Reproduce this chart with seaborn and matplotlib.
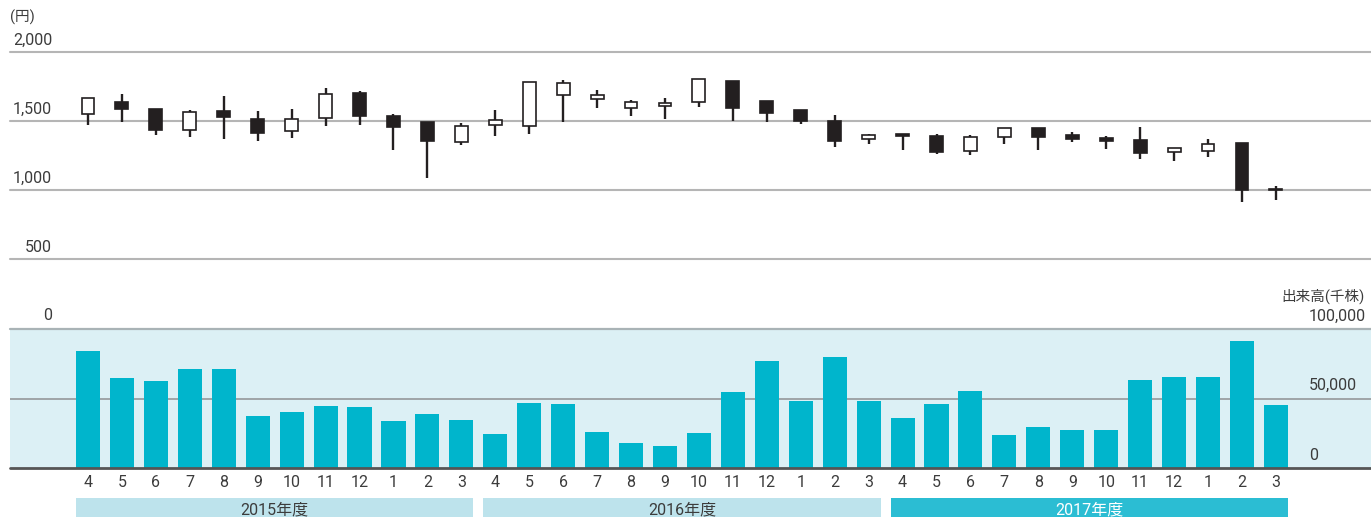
import numpy as np
import pandas as pd
import matplotlib
matplotlib.use("Agg")
import matplotlib.pyplot as plt
import matplotlib.transforms as mtransforms
from matplotlib.patches import Rectangle
import seaborn as sns

# ---- data -------------------------------------------------------------
month_labels = [4, 5, 6, 7, 8, 9, 10, 11, 12, 1, 2, 3] * 3
fiscal_years = ["2015年度", "2016年度", "2017年度"]

price_open = [1551, 1638, 1587, 1432, 1572, 1512, 1428, 1522, 1703, 1539, 1493, 1348,
              1469, 1466, 1688, 1657, 1592, 1609, 1638, 1787, 1645, 1577, 1502, 1372,
              1403, 1391, 1280, 1384, 1449, 1401, 1374, 1362, 1273, 1283, 1341, 1010]
price_high = [1669, 1696, 1587, 1577, 1681, 1572, 1587, 1739, 1720, 1548, 1493, 1483,
              1580, 1780, 1797, 1725, 1652, 1667, 1802, 1792, 1645, 1577, 1543, 1403,
              1403, 1406, 1399, 1452, 1449, 1418, 1389, 1457, 1302, 1370, 1341, 1027]
price_low = [1471, 1493, 1401, 1386, 1372, 1355, 1379, 1464, 1473, 1290, 1089, 1329,
             1394, 1408, 1495, 1597, 1539, 1517, 1604, 1502, 1495, 1481, 1314, 1336,
             1292, 1263, 1256, 1336, 1292, 1345, 1300, 1227, 1213, 1242, 916, 930]
price_close = [1669, 1585, 1432, 1563, 1527, 1415, 1512, 1698, 1534, 1457, 1358, 1466,
               1505, 1780, 1775, 1691, 1635, 1630, 1802, 1597, 1556, 1502, 1353, 1396,
               1389, 1278, 1386, 1452, 1386, 1370, 1353, 1268, 1302, 1333, 1000, 1001]

# trading volume, thousand shares
volume = [84200, 64800, 62700, 71300, 71300, 37600, 40400, 44700, 44000, 34000, 39000, 34700,
          24600, 46900, 46200, 26100, 18200, 16000, 25400, 54800, 77000, 48300, 79900, 48300,
          36100, 46200, 55500, 23900, 29700, 27500, 27500, 63400, 65600, 65600, 91400, 45500]

price_ticks = [500, 1000, 1500, 2000]
price_tick_labels = ["500", "1,000", "1,500", "2,000"]
volume_ticks = [0, 50000, 100000]
volume_tick_labels = ["0", "50,000", "100,000"]

# ---- style ------------------------------------------------------------
sns.set_style("white")
plt.rcParams["font.family"] = ["Roboto", "Noto Sans CJK JP", "DejaVu Sans"]
TEXT = "#3c3c3c"
INK = "#231f20"
BAR = "#00b5cc"
FS = 11.5

W, H = 1371, 517
fig = plt.figure(figsize=(W / 100, H / 100), dpi=100)

x_left_px, x_right_px = 10, 1371
first_px, step_px = 88, 33.94
xlim = ((x_left_px - first_px) / step_px, (x_right_px - first_px) / step_px)

def frac_box(top_px, bottom_px):
    return [x_left_px / W, 1 - bottom_px / H, (x_right_px - x_left_px) / W,
            (bottom_px - top_px) / H]

ax_p = fig.add_axes(frac_box(52, 328))
ax_v = fig.add_axes(frac_box(329, 468))

pos = np.arange(len(volume))

# ---- price panel (candlesticks) --------------------------------------
ax_p.set_xlim(*xlim)
ax_p.set_ylim(0, 2000)
ax_p.axis("off")
for v in price_ticks:
    ax_p.axhline(v, color="#b5b5b5", lw=1.5, clip_on=False, zorder=0)

o = np.array(price_open)
c = np.array(price_close)
ax_p.vlines(pos, price_low, price_high, color=INK, lw=1.7, zorder=2)
up = c >= o
ax_p.bar(pos, np.abs(c - o), bottom=np.minimum(o, c), width=0.38,
         color=np.where(up, "white", INK), edgecolor=INK, linewidth=1.2, zorder=3)

ax_p.annotate("(円)", xy=(0, 2000), xycoords=("axes fraction", "data"),
              xytext=(0, 35), textcoords="offset pixels", ha="left", va="center",
              fontsize=10.5, color=TEXT)
for v, lbl in zip([0] + price_ticks, ["0"] + price_tick_labels):
    ax_p.annotate(lbl, xy=(0, v), xycoords=("axes fraction", "data"),
                  xytext=(42, 12), textcoords="offset pixels", ha="right", va="center",
                  fontsize=FS, color=TEXT)

# ---- volume panel ------------------------------------------------------
df = pd.DataFrame({"pos": pos, "volume": volume})
ax_v.set_facecolor("#dcf0f5")
sns.barplot(data=df, x="pos", y="volume", native_scale=True, width=0.71,
            color=BAR, saturation=1, linewidth=0, ax=ax_v, zorder=2)
ax_v.set_xlim(*xlim)
ax_v.set_ylim(0, 100000)
for s in ax_v.spines.values():
    s.set_visible(False)
ax_v.axhline(100000, color="#a9b3b6", lw=1.6, clip_on=False, zorder=1)
ax_v.axhline(50000, color="#9a9fa1", lw=1.3, zorder=1)
ax_v.axhline(0, color="#555555", lw=2, clip_on=False, zorder=3)
ax_v.set_xlabel("")
ax_v.set_ylabel("")
ax_v.set_yticks([])
ax_v.set_xticks(pos)
ax_v.set_xticklabels([str(m) for m in month_labels], fontsize=FS, color=TEXT)
ax_v.tick_params(axis="x", length=0, pad=5)

for v, lbl in zip(volume_ticks, volume_tick_labels):
    ax_v.annotate(lbl, xy=(1, v), xycoords=("axes fraction", "data"),
                  xytext=(-62, 13), textcoords="offset pixels", ha="left", va="center",
                  fontsize=FS, color=TEXT)
ax_v.annotate("出来高(千株)", xy=(1, 100000), xycoords=("axes fraction", "data"),
              xytext=(-6, 33), textcoords="offset pixels", ha="right", va="center",
              fontsize=10.5, color=TEXT)

# fiscal-year bands under the month labels
band_tr = mtransforms.blended_transform_factory(ax_v.transData, fig.transFigure)
band_colors = ["#bde3ec", "#bde3ec", "#2bbdd3"]
band_text = [TEXT, TEXT, "white"]
for k, (name, bc, tc) in enumerate(zip(fiscal_years, band_colors, band_text)):
    start = k * 12 - 0.355
    ax_v.add_patch(Rectangle((start, 0), 11.71, 1 - 498 / H, transform=band_tr,
                             facecolor=bc, edgecolor="none", clip_on=False))
    ax_v.text(start + 11.71 / 2, 1 - 510 / H, name, transform=band_tr,
              ha="center", va="center", fontsize=FS, color=tc)

fig.savefig("out.png", dpi=100)
